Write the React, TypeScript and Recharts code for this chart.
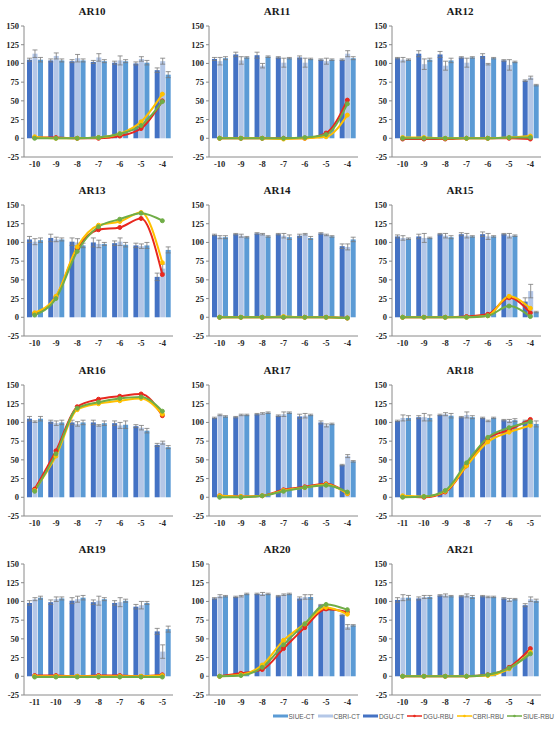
import React from "react";
import { ComposedChart, Bar, Line, XAxis, YAxis, ErrorBar } from "recharts";

const CATS_A = ["-10", "-9", "-8", "-7", "-6", "-5", "-4"];
const CATS_B = ["-11", "-10", "-9", "-8", "-7", "-6", "-5"];
const Y_TICKS = [-25, 0, 25, 50, 75, 100, 125, 150];

// AR10
const AR10_DGU_CT = [105, 104, 103, 102, 101, 100, 91];
const AR10_DGU_CT_ERR = [2, 2, 2, 2, 2, 2, 3];
const AR10_CBRI_CT = [113, 110, 107, 108, 104, 106, 103];
const AR10_CBRI_CT_ERR = [5, 4, 5, 5, 6, 3, 4];
const AR10_SIUE_CT = [105, 104, 104, 103, 103, 101, 85];
const AR10_SIUE_CT_ERR = [3, 2, 2, 2, 2, 3, 4];
const AR10_DGU_RBU = [1, 1, 0, 0, 3, 13, 50];
const AR10_CBRI_RBU = [2, 0, 0, 1, 6, 22, 59];
const AR10_SIUE_RBU = [0, 0, 0, 1, 6, 17, 49];

// AR11
const AR11_DGU_CT = [106, 112, 111, 108, 108, 105, 105];
const AR11_DGU_CT_ERR = [2, 3, 4, 1, 2, 1, 1];
const AR11_CBRI_CT = [103, 104, 97, 101, 101, 103, 113];
const AR11_CBRI_CT_ERR = [5, 5, 3, 6, 6, 4, 4];
const AR11_SIUE_CT = [107, 108, 109, 107, 106, 105, 107];
const AR11_SIUE_CT_ERR = [2, 1, 1, 1, 1, 1, 2];
const AR11_DGU_RBU = [0, 0, 0, 0, 0, 7, 51];
const AR11_CBRI_RBU = [0, 0, 0, -1, 0, 2, 31];
const AR11_SIUE_RBU = [0, 0, 0, 0, 1, 5, 46];

// AR12
const AR12_DGU_CT = [107, 113, 112, 108, 110, 104, 77];
const AR12_DGU_CT_ERR = [1, 4, 4, 1, 3, 1, 1];
const AR12_CBRI_CT = [105, 99, 97, 101, 99, 98, 81];
const AR12_CBRI_CT_ERR = [3, 7, 6, 6, 1, 7, 2];
const AR12_SIUE_CT = [105, 105, 104, 108, 107, 102, 71];
const AR12_SIUE_CT_ERR = [1, 2, 3, 1, 1, 1, 1];
const AR12_DGU_RBU = [-1, -1, -1, 0, 0, 0, -1];
const AR12_CBRI_RBU = [1, 1, 0, 0, 0, 1, 3];
const AR12_SIUE_RBU = [0, 0, 0, 0, 0, 1, 1];

// AR13
const AR13_DGU_CT = [104, 106, 101, 100, 99, 96, 54];
const AR13_DGU_CT_ERR = [4, 5, 5, 6, 3, 3, 5];
const AR13_CBRI_CT = [101, 104, 100, 98, 101, 95, 65];
const AR13_CBRI_CT_ERR = [4, 3, 5, 5, 5, 3, 6];
const AR13_SIUE_CT = [103, 104, 96, 98, 97, 96, 90];
const AR13_SIUE_CT_ERR = [3, 2, 3, 2, 3, 4, 4];
const AR13_DGU_RBU = [5, 27, 92, 117, 120, 132, 57];
const AR13_CBRI_RBU = [6, 28, 94, 123, 128, 140, 73];
const AR13_SIUE_RBU = [3, 25, 88, 121, 131, 139, 129];

// AR14
const AR14_DGU_CT = [110, 111, 112, 111, 109, 112, 95];
const AR14_DGU_CT_ERR = [1, 1, 1, 1, 2, 1, 3];
const AR14_CBRI_CT = [107, 109, 111, 109, 111, 110, 94];
const AR14_CBRI_CT_ERR = [2, 2, 1, 3, 1, 1, 4];
const AR14_SIUE_CT = [107, 107, 108, 107, 106, 108, 104];
const AR14_SIUE_CT_ERR = [2, 1, 1, 3, 2, 1, 3];
const AR14_DGU_RBU = [0, 0, 0, 0, 0, 0, -1];
const AR14_CBRI_RBU = [0, 0, 0, 1, 0, 0, -1];
const AR14_SIUE_RBU = [0, 0, 0, 0, 0, 0, -1];

// AR15
const AR15_DGU_CT = [108, 108, 111, 111, 111, 111, 21];
const AR15_DGU_CT_ERR = [2, 3, 1, 2, 3, 1, 5];
const AR15_CBRI_CT = [106, 106, 109, 109, 108, 109, 35];
const AR15_CBRI_CT_ERR = [3, 6, 3, 3, 4, 3, 9];
const AR15_SIUE_CT = [105, 106, 107, 108, 108, 109, 7];
const AR15_SIUE_CT_ERR = [1, 1, 2, 1, 1, 1, 1];
const AR15_DGU_RBU = [0, 0, 0, 1, 4, 26, 6];
const AR15_CBRI_RBU = [0, 0, 0, 0, 2, 28, 12];
const AR15_SIUE_RBU = [0, 0, 0, 0, 2, 15, 1];

// AR16
const AR16_DGU_CT = [105, 101, 100, 100, 99, 95, 70];
const AR16_DGU_CT_ERR = [3, 2, 3, 3, 3, 2, 2];
const AR16_CBRI_CT = [101, 99, 98, 96, 96, 93, 73];
const AR16_CBRI_CT_ERR = [1, 3, 3, 1, 4, 3, 2];
const AR16_SIUE_CT = [105, 100, 100, 99, 97, 89, 67];
const AR16_SIUE_CT_ERR = [3, 3, 3, 3, 5, 3, 2];
const AR16_DGU_RBU = [11, 62, 121, 131, 135, 138, 109];
const AR16_CBRI_RBU = [9, 55, 117, 125, 129, 132, 111];
const AR16_SIUE_RBU = [8, 58, 119, 127, 132, 134, 115];

// AR17
const AR17_DGU_CT = [106, 107, 111, 109, 108, 100, 43];
const AR17_DGU_CT_ERR = [1, 1, 1, 1, 3, 2, 1];
const AR17_CBRI_CT = [110, 110, 112, 111, 109, 96, 55];
const AR17_CBRI_CT_ERR = [1, 1, 1, 3, 3, 2, 2];
const AR17_SIUE_CT = [108, 110, 113, 113, 110, 98, 48];
const AR17_SIUE_CT_ERR = [1, 1, 1, 1, 1, 1, 1];
const AR17_DGU_RBU = [2, 1, 2, 10, 14, 18, 5];
const AR17_CBRI_RBU = [2, 1, 2, 9, 13, 17, 5];
const AR17_SIUE_RBU = [0, 0, 2, 8, 13, 16, 7];

// AR18
const AR18_DGU_CT = [102, 107, 110, 107, 106, 103, 102];
const AR18_DGU_CT_ERR = [1, 2, 1, 1, 1, 1, 1];
const AR18_CBRI_CT = [106, 107, 111, 110, 102, 102, 100];
const AR18_CBRI_CT_ERR = [4, 5, 2, 4, 1, 2, 1];
const AR18_SIUE_CT = [106, 106, 109, 107, 106, 103, 98];
const AR18_SIUE_CT_ERR = [3, 4, 3, 2, 1, 2, 4];
const AR18_DGU_RBU = [1, 0, 7, 42, 79, 90, 104];
const AR18_CBRI_RBU = [2, 1, 8, 42, 74, 87, 96];
const AR18_SIUE_RBU = [0, 1, 9, 46, 80, 93, 101];

// AR19
const AR19_DGU_CT = [98, 99, 101, 99, 98, 93, 60];
const AR19_DGU_CT_ERR = [3, 3, 4, 3, 3, 3, 4];
const AR19_CBRI_CT = [103, 103, 103, 101, 99, 95, 33];
const AR19_CBRI_CT_ERR = [2, 3, 4, 6, 6, 5, 9];
const AR19_SIUE_CT = [105, 104, 105, 103, 101, 98, 63];
const AR19_SIUE_CT_ERR = [2, 2, 3, 2, 2, 2, 4];
const AR19_DGU_RBU = [1, 1, 0, 1, 1, 0, 2];
const AR19_CBRI_RBU = [0, 0, 0, 0, 0, 0, 1];
const AR19_SIUE_RBU = [-1, -1, -1, -1, -1, -1, -1];

// AR20
const AR20_DGU_CT = [104, 106, 110, 107, 104, 95, 82];
const AR20_DGU_CT_ERR = [1, 1, 1, 1, 2, 1, 1];
const AR20_CBRI_CT = [107, 107, 110, 109, 106, 90, 66];
const AR20_CBRI_CT_ERR = [2, 1, 2, 1, 3, 2, 3];
const AR20_SIUE_CT = [107, 110, 110, 110, 106, 89, 68];
const AR20_SIUE_CT_ERR = [1, 1, 1, 1, 3, 1, 1];
const AR20_DGU_RBU = [0, 4, 9, 37, 65, 90, 86];
const AR20_CBRI_RBU = [0, 2, 15, 48, 70, 92, 83];
const AR20_SIUE_RBU = [0, 1, 12, 42, 70, 96, 89];

// AR21
const AR21_DGU_CT = [102, 104, 108, 107, 107, 104, 95];
const AR21_DGU_CT_ERR = [3, 2, 1, 1, 1, 1, 2];
const AR21_CBRI_CT = [105, 106, 108, 108, 106, 102, 103];
const AR21_CBRI_CT_ERR = [4, 2, 2, 2, 1, 2, 3];
const AR21_SIUE_CT = [105, 106, 107, 106, 106, 103, 101];
const AR21_SIUE_CT_ERR = [3, 2, 1, 2, 1, 1, 2];
const AR21_DGU_RBU = [0, 0, 0, 0, 2, 12, 37];
const AR21_CBRI_RBU = [0, 0, 0, 0, 1, 10, 32];
const AR21_SIUE_RBU = [0, 0, 0, 0, 2, 11, 30];

const C_DGU_CT = "#4472C4";
const C_CBRI_CT = "#B4C7E7";
const C_SIUE_CT = "#5B9BD5";
const C_DGU_RBU = "#E8281E";
const C_CBRI_RBU = "#FFC000";
const C_SIUE_RBU = "#70AD47";

type PanelDef = {
  title: string;
  cats: string[];
  dgu: number[]; dguE: number[];
  cbri: number[]; cbriE: number[];
  siue: number[]; siueE: number[];
  rDgu: number[]; rCbri: number[]; rSiue: number[];
};

const PANELS: PanelDef[] = [
  { title: "AR10", cats: CATS_A, dgu: AR10_DGU_CT, dguE: AR10_DGU_CT_ERR, cbri: AR10_CBRI_CT, cbriE: AR10_CBRI_CT_ERR, siue: AR10_SIUE_CT, siueE: AR10_SIUE_CT_ERR, rDgu: AR10_DGU_RBU, rCbri: AR10_CBRI_RBU, rSiue: AR10_SIUE_RBU },
  { title: "AR11", cats: CATS_A, dgu: AR11_DGU_CT, dguE: AR11_DGU_CT_ERR, cbri: AR11_CBRI_CT, cbriE: AR11_CBRI_CT_ERR, siue: AR11_SIUE_CT, siueE: AR11_SIUE_CT_ERR, rDgu: AR11_DGU_RBU, rCbri: AR11_CBRI_RBU, rSiue: AR11_SIUE_RBU },
  { title: "AR12", cats: CATS_A, dgu: AR12_DGU_CT, dguE: AR12_DGU_CT_ERR, cbri: AR12_CBRI_CT, cbriE: AR12_CBRI_CT_ERR, siue: AR12_SIUE_CT, siueE: AR12_SIUE_CT_ERR, rDgu: AR12_DGU_RBU, rCbri: AR12_CBRI_RBU, rSiue: AR12_SIUE_RBU },
  { title: "AR13", cats: CATS_A, dgu: AR13_DGU_CT, dguE: AR13_DGU_CT_ERR, cbri: AR13_CBRI_CT, cbriE: AR13_CBRI_CT_ERR, siue: AR13_SIUE_CT, siueE: AR13_SIUE_CT_ERR, rDgu: AR13_DGU_RBU, rCbri: AR13_CBRI_RBU, rSiue: AR13_SIUE_RBU },
  { title: "AR14", cats: CATS_A, dgu: AR14_DGU_CT, dguE: AR14_DGU_CT_ERR, cbri: AR14_CBRI_CT, cbriE: AR14_CBRI_CT_ERR, siue: AR14_SIUE_CT, siueE: AR14_SIUE_CT_ERR, rDgu: AR14_DGU_RBU, rCbri: AR14_CBRI_RBU, rSiue: AR14_SIUE_RBU },
  { title: "AR15", cats: CATS_A, dgu: AR15_DGU_CT, dguE: AR15_DGU_CT_ERR, cbri: AR15_CBRI_CT, cbriE: AR15_CBRI_CT_ERR, siue: AR15_SIUE_CT, siueE: AR15_SIUE_CT_ERR, rDgu: AR15_DGU_RBU, rCbri: AR15_CBRI_RBU, rSiue: AR15_SIUE_RBU },
  { title: "AR16", cats: CATS_A, dgu: AR16_DGU_CT, dguE: AR16_DGU_CT_ERR, cbri: AR16_CBRI_CT, cbriE: AR16_CBRI_CT_ERR, siue: AR16_SIUE_CT, siueE: AR16_SIUE_CT_ERR, rDgu: AR16_DGU_RBU, rCbri: AR16_CBRI_RBU, rSiue: AR16_SIUE_RBU },
  { title: "AR17", cats: CATS_A, dgu: AR17_DGU_CT, dguE: AR17_DGU_CT_ERR, cbri: AR17_CBRI_CT, cbriE: AR17_CBRI_CT_ERR, siue: AR17_SIUE_CT, siueE: AR17_SIUE_CT_ERR, rDgu: AR17_DGU_RBU, rCbri: AR17_CBRI_RBU, rSiue: AR17_SIUE_RBU },
  { title: "AR18", cats: CATS_B, dgu: AR18_DGU_CT, dguE: AR18_DGU_CT_ERR, cbri: AR18_CBRI_CT, cbriE: AR18_CBRI_CT_ERR, siue: AR18_SIUE_CT, siueE: AR18_SIUE_CT_ERR, rDgu: AR18_DGU_RBU, rCbri: AR18_CBRI_RBU, rSiue: AR18_SIUE_RBU },
  { title: "AR19", cats: CATS_B, dgu: AR19_DGU_CT, dguE: AR19_DGU_CT_ERR, cbri: AR19_CBRI_CT, cbriE: AR19_CBRI_CT_ERR, siue: AR19_SIUE_CT, siueE: AR19_SIUE_CT_ERR, rDgu: AR19_DGU_RBU, rCbri: AR19_CBRI_RBU, rSiue: AR19_SIUE_RBU },
  { title: "AR20", cats: CATS_A, dgu: AR20_DGU_CT, dguE: AR20_DGU_CT_ERR, cbri: AR20_CBRI_CT, cbriE: AR20_CBRI_CT_ERR, siue: AR20_SIUE_CT, siueE: AR20_SIUE_CT_ERR, rDgu: AR20_DGU_RBU, rCbri: AR20_CBRI_RBU, rSiue: AR20_SIUE_RBU },
  { title: "AR21", cats: CATS_A, dgu: AR21_DGU_CT, dguE: AR21_DGU_CT_ERR, cbri: AR21_CBRI_CT, cbriE: AR21_CBRI_CT_ERR, siue: AR21_SIUE_CT, siueE: AR21_SIUE_CT_ERR, rDgu: AR21_DGU_RBU, rCbri: AR21_CBRI_RBU, rSiue: AR21_SIUE_RBU },
];

const COL_LEFT = [0, 185, 368];
const ROW_TOP = [0, 179, 359, 538];
const CHART_W = 178;
const CHART_H = 176;
const AXIS_COLOR = "#8a8a8a";
const TICK_STYLE = { fontSize: 8.5, fontWeight: 700, fill: "#262626", fontFamily: "'Liberation Serif', 'Times New Roman', serif" };

function Panel({ p, left, top }: { p: PanelDef; left: number; top: number }) {
  const data = p.cats.map((c, i) => ({
    cat: c,
    dguCT: p.dgu[i], dguE: p.dguE[i],
    cbriCT: p.cbri[i], cbriE: p.cbriE[i],
    siueCT: p.siue[i], siueE: p.siueE[i],
    dguRBU: p.rDgu[i], cbriRBU: p.rCbri[i], siueRBU: p.rSiue[i],
  }));
  const dot = (c: string) => ({ r: 2, fill: c, stroke: c, strokeWidth: 1 });
  return (
    <div style={{ position: "absolute", left, top, width: CHART_W, height: CHART_H }}>
      <div
        style={{
          position: "absolute", left: 92 - 40, top: 5, width: 80, textAlign: "center",
          fontFamily: "'Liberation Serif', 'Times New Roman', serif", fontWeight: 700, fontSize: 11, color: "#1a1a1a", lineHeight: "13px",
        }}
      >
        {p.title}
      </div>
      <ComposedChart width={CHART_W} height={CHART_H} data={data} margin={{ top: 26, right: 5, bottom: 3, left: 0 }} barCategoryGap="14%" barGap={0.5}>
        <XAxis dataKey="cat" height={16} tickLine={false} tickSize={0} tickMargin={4} interval={0} stroke={AXIS_COLOR} tick={TICK_STYLE} />
        <YAxis width={24} domain={[-25, 150]} ticks={Y_TICKS} interval={0} tickSize={3} tickMargin={2} stroke={AXIS_COLOR} tick={TICK_STYLE} allowDataOverflow />
        <Bar dataKey="dguCT" name="DGU-CT" fill={C_DGU_CT} isAnimationActive={false}>
          <ErrorBar dataKey="dguE" width={2.5} stroke="#7a7a7a" strokeWidth={0.8} />
        </Bar>
        <Bar dataKey="cbriCT" name="CBRI-CT" fill={C_CBRI_CT} isAnimationActive={false}>
          <ErrorBar dataKey="cbriE" width={2.5} stroke="#7a7a7a" strokeWidth={0.8} />
        </Bar>
        <Bar dataKey="siueCT" name="SIUE-CT" fill={C_SIUE_CT} isAnimationActive={false}>
          <ErrorBar dataKey="siueE" width={2.5} stroke="#7a7a7a" strokeWidth={0.8} />
        </Bar>
        <Line type="monotone" dataKey="dguRBU" name="DGU-RBU" stroke={C_DGU_RBU} strokeWidth={2} dot={dot(C_DGU_RBU)} isAnimationActive={false} />
        <Line type="monotone" dataKey="cbriRBU" name="CBRI-RBU" stroke={C_CBRI_RBU} strokeWidth={2} dot={dot(C_CBRI_RBU)} isAnimationActive={false} />
        <Line type="monotone" dataKey="siueRBU" name="SIUE-RBU" stroke={C_SIUE_RBU} strokeWidth={2} dot={dot(C_SIUE_RBU)} isAnimationActive={false} />
      </ComposedChart>
    </div>
  );
}

const LEGEND_ITEMS = [
  { label: "SIUE-CT", color: C_SIUE_CT, kind: "bar" },
  { label: "CBRI-CT", color: C_CBRI_CT, kind: "bar" },
  { label: "DGU-CT", color: C_DGU_CT, kind: "bar" },
  { label: "DGU-RBU", color: C_DGU_RBU, kind: "line" },
  { label: "CBRI-RBU", color: C_CBRI_RBU, kind: "line" },
  { label: "SIUE-RBU", color: C_SIUE_RBU, kind: "line" },
];

function Legend() {
  return (
    <div style={{ position: "absolute", right: 6, top: 711, height: 10, display: "flex", alignItems: "center", fontFamily: "'Liberation Sans', Arial, sans-serif", fontSize: 6.5, color: "#595959", whiteSpace: "nowrap" }}>
      {LEGEND_ITEMS.map((it, i) => (
        <div key={it.label} style={{ display: "flex", alignItems: "center", marginLeft: i === 0 ? 0 : 3 }}>
          <svg width={15} height={6} style={{ marginRight: 1 }}>
            {it.kind === "bar" ? (
              <rect x={0} y={1.5} width={15} height={3} fill={it.color} />
            ) : (
              <g>
                <line x1={0} y1={3} x2={15} y2={3} stroke={it.color} strokeWidth={1.5} />
                <circle cx={7.5} cy={3} r={1.3} fill={it.color} />
              </g>
            )}
          </svg>
          <span>{it.label}</span>
        </div>
      ))}
    </div>
  );
}

export default function App() {
  return (
    <div style={{ position: "absolute", left: 0, top: 0, width: 560, height: 729, background: "#ffffff", overflow: "hidden" }}>
      {PANELS.map((p, i) => (
        <Panel key={p.title} p={p} left={COL_LEFT[i % 3]} top={ROW_TOP[Math.floor(i / 3)]} />
      ))}
      <Legend />
    </div>
  );
}
